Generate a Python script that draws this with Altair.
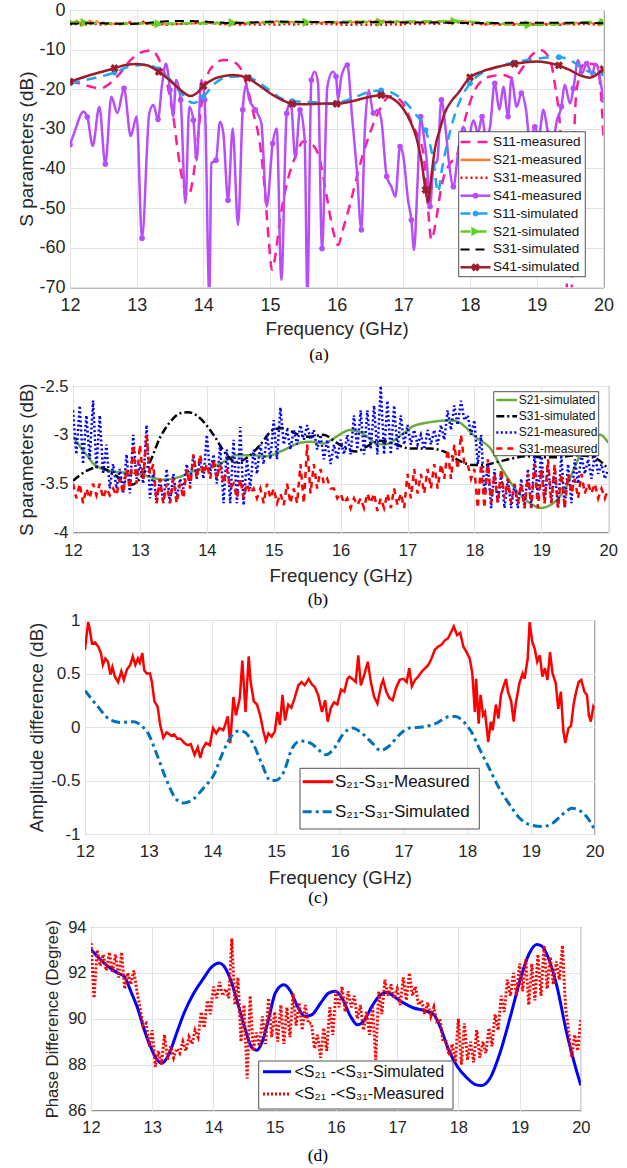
import altair as alt
import pandas as pd

# ------------------------------------------------------------------ data --
FREQ_TICKS = [12, 13, 14, 15, 16, 17, 18, 19, 20]

# frequency grid of the rippled measured traces: every 0.1 GHz step holds
# one upper and one lower excursion of the ripple
RIPPLE_F = [round(12 + 0.1 * k, 1) for k in range(81)]

# (a) reflection and isolation, (GHz, dB)
S11_MEAS = [
    (12.0, -18), (12.15, -18.6), (12.3, -19.3), (12.45, -19.8), (12.6, -18.5), (12.75, -16),
    (12.9, -12.8), (13.05, -10.8), (13.22, -10.2), (13.35, -13), (13.45, -18), (13.55, -27),
    (13.62, -36), (13.7, -44), (13.77, -47), (13.83, -44), (13.9, -35), (13.97, -24),
    (14.05, -17), (14.15, -14), (14.3, -12.6), (14.42, -12.9), (14.55, -14.5), (14.65, -19),
    (14.75, -26), (14.85, -34), (14.92, -45), (14.98, -58), (15.03, -65.6), (15.08, -62),
    (15.15, -53), (15.25, -44), (15.38, -37), (15.5, -33.2), (15.62, -33.8), (15.75, -38),
    (15.85, -47), (15.95, -56), (16.02, -59.3), (16.1, -55), (16.2, -49), (16.35, -39),
    (16.5, -31), (16.65, -25), (16.8, -21.8), (16.95, -22.7), (17.15, -29.5), (17.3, -36),
    (17.36, -48), (17.42, -58), (17.5, -52), (17.57, -44.6), (17.7, -38.7), (17.8, -37),
    (17.85, -33), (17.95, -26), (18.1, -19.4), (18.3, -16.8), (18.5, -16.4), (18.65, -17.2),
    (18.8, -14.3), (18.95, -11), (19.05, -10.1), (19.2, -12.6), (19.27, -18.5), (19.35, -29.5),
    (19.4, -43.7), (19.43, -56), (19.46, -72), (19.52, -72), (19.55, -40), (19.6, -20),
    (19.72, -13.5), (19.9, -13.9), (19.97, -22.7), (20.0, -32),
]

S41_MEAS = [
    (12.0, -34), (12.07, -30.7), (12.2, -25.7), (12.26, -27), (12.34, -34.3), (12.44, -24.4),
    (12.53, -38.9), (12.62, -21.9), (12.71, -26), (12.81, -19.8), (12.91, -31.8), (13.0, -26.9),
    (13.08, -57.6), (13.19, -26), (13.25, -24), (13.32, -27.6), (13.38, -18.9), (13.44, -13.5),
    (13.5, -20.2), (13.55, -26.9), (13.59, -17.7), (13.66, -22.7), (13.73, -48.8), (13.79, -24.4),
    (13.85, -27.8), (13.9, -38), (13.97, -17.7), (14.02, -22.7), (14.09, -72), (14.12, -38.7),
    (14.19, -37.9), (14.25, -28.2), (14.3, -31.1), (14.37, -48), (14.44, -29.9), (14.52, -54.3),
    (14.59, -25.2), (14.64, -18.9), (14.69, -22.7), (14.78, -25.2), (14.87, -28.6), (14.95, -49.6),
    (15.04, -33.7), (15.1, -29.9), (15.17, -68.1), (15.25, -26.1), (15.31, -23.1), (15.38, -37.4),
    (15.45, -25.2), (15.52, -32.8), (15.56, -72), (15.62, -17.7), (15.67, -15.6), (15.72, -18.5),
    (15.78, -60.2), (15.86, -19.4), (15.94, -15.6), (15.99, -16.8), (16.02, -22.7), (16.07, -16.8),
    (16.16, -13.9), (16.23, -26.9), (16.3, -40), (16.37, -55.5), (16.42, -31.1), (16.48, -20.2),
    (16.55, -26), (16.62, -25.2), (16.67, -27.8), (16.75, -42), (16.82, -44.6), (16.88, -47.1),
    (16.95, -34.5), (17.0, -37), (17.07, -48), (17.12, -53), (17.16, -60.6), (17.21, -44.6),
    (17.26, -26.9), (17.3, -31.1), (17.35, -37.9), (17.4, -49.6), (17.45, -39.5), (17.51, -37.9),
    (17.57, -22.7), (17.63, -29.5), (17.68, -37.9), (17.75, -44.6), (17.82, -36.2), (17.9, -29.5),
    (17.97, -32.8), (18.05, -27.8), (18.12, -31.1), (18.18, -26.9), (18.24, -32.8), (18.3, -29.5),
    (18.37, -18.5), (18.44, -25.2), (18.5, -19.4), (18.57, -26.9), (18.62, -17.2), (18.7, -24.4),
    (18.77, -21), (18.84, -25.2), (18.9, -33.7), (18.97, -29.5), (19.03, -32), (19.1, -25.2),
    (19.17, -31.1), (19.23, -34.5), (19.3, -28), (19.37, -24.4), (19.42, -18.9), (19.5, -23.6),
    (19.55, -19.8), (19.62, -12.6), (19.68, -16), (19.75, -13.5), (19.83, -16.4), (19.88, -13.5),
    (20.0, -22.7),
]

S11_SIM = [
    (12.0, -18.5), (12.333, -17.3), (12.667, -15.8), (12.9, -14.2), (13.15, -13.8), (13.333, -15.0),
    (13.5, -17.5), (13.667, -21.0), (13.85, -23.5), (14.0, -21.9), (14.167, -18.6), (14.333, -17.1),
    (14.5, -16.8), (14.667, -17.0), (14.833, -18.3), (15.0, -20.3), (15.167, -22.3), (15.333, -23.0),
    (15.5, -23.2), (15.667, -23.3), (15.833, -23.6), (16.0, -23.5), (16.167, -22.7), (16.333, -21.6),
    (16.5, -20.6), (16.667, -20.3), (16.833, -20.9), (17.0, -22.8), (17.167, -26.0), (17.333, -30.3),
    (17.45, -38), (17.52, -46), (17.58, -40), (17.667, -33), (17.8, -25), (18.0, -18.5),
    (18.167, -16.0), (18.333, -14.8), (18.5, -13.9), (18.667, -13.2), (18.833, -12.7), (19.0, -12.3),
    (19.167, -12.0), (19.333, -11.9), (19.5, -12.6), (19.667, -14.5), (19.833, -15.8), (20.0, -16.0),
]

S41_SIM = [
    (12.0, -18.1), (12.333, -16.3), (12.667, -14.7), (12.833, -13.9), (13.0, -13.6), (13.167, -14.0),
    (13.333, -15.6), (13.5, -17.8), (13.667, -20.3), (13.8, -21.7), (13.9, -21.0), (14.0, -19.2),
    (14.167, -17.3), (14.333, -16.6), (14.45, -16.4), (14.667, -17.2), (14.833, -19.0), (15.0, -21.0),
    (15.167, -22.6), (15.333, -23.7), (15.5, -23.8), (15.667, -23.7), (15.833, -23.6), (16.0, -23.7),
    (16.167, -23.3), (16.333, -22.6), (16.5, -21.9), (16.667, -21.5), (16.833, -22.3), (17.0, -25.0),
    (17.1, -28.0), (17.2, -32.5), (17.27, -38), (17.333, -45.4), (17.37, -48.4), (17.42, -42),
    (17.47, -35.3), (17.55, -30), (17.62, -26), (17.72, -23), (17.82, -21), (18.0, -17.0),
    (18.167, -15.6), (18.333, -14.7), (18.5, -14.0), (18.667, -13.6), (18.833, -13.2), (19.0, -13.0),
    (19.167, -13.3), (19.333, -14.0), (19.5, -15.2), (19.667, -16.6), (19.8, -17.1), (19.9, -16.3),
    (20.0, -14.9),
]

# frequencies carrying the markers of the simulated traces
SIM_MARK_F = [12.0, 12.667, 13.333, 14.0, 14.667, 15.333, 16.0, 16.667, 17.333, 18.0, 18.667, 19.333, 20.0]
S21_SIM_MARK_F = [12.22, 13.33, 14.44, 15.55, 16.66, 17.77, 18.88, 20.0]

# (a) and (b) transmission, (GHz, dB)
S21_SIM = [
    (12.0, -3.02), (12.16, -3.17), (12.22, -3.22), (12.31, -3.3), (12.45, -3.35), (12.65, -3.38),
    (12.9, -3.39), (13.15, -3.43), (13.33, -3.46), (13.6, -3.43), (13.8, -3.37), (14.04, -3.34),
    (14.24, -3.28), (14.44, -3.21), (14.69, -3.21), (14.89, -3.22), (15.14, -3.16), (15.39, -3.08),
    (15.55, -3.07), (15.74, -3.09), (15.89, -3.04), (16.14, -2.95), (16.34, -2.99), (16.54, -3.09),
    (16.66, -3.1), (16.89, -3.01), (17.09, -2.91), (17.34, -2.87), (17.64, -2.85), (17.77, -2.87),
    (18.03, -3.03), (18.23, -3.13), (18.43, -3.37), (18.63, -3.57), (18.83, -3.7), (18.88, -3.72),
    (18.98, -3.75), (19.18, -3.7), (19.38, -3.52), (19.53, -3.28), (19.68, -3.07), (19.88, -3.0),
    (20.0, -3.08),
]

S31_SIM = [
    (12.0, -3.47), (12.2, -3.37), (12.38, -3.33), (12.56, -3.38), (12.73, -3.46), (12.88, -3.51),
    (13.0, -3.45), (13.15, -3.28), (13.3, -3.03), (13.45, -2.87), (13.6, -2.78), (13.72, -2.77),
    (13.9, -2.83), (14.1, -3.0), (14.29, -3.2), (14.44, -3.28), (14.59, -3.24), (14.79, -3.11),
    (14.99, -2.95), (15.14, -2.93), (15.34, -2.99), (15.54, -3.02), (15.74, -3.0), (15.94, -3.08),
    (16.14, -3.16), (16.24, -3.17), (16.39, -3.12), (16.59, -3.06), (16.79, -3.09), (17.04, -3.14),
    (17.34, -3.14), (17.54, -3.17), (17.79, -3.27), (17.98, -3.31), (18.13, -3.31), (18.33, -3.28),
    (18.58, -3.24), (18.78, -3.22), (18.98, -3.23), (19.23, -3.23), (19.53, -3.21), (19.78, -3.23),
    (20.0, -3.35),
]

S21_MEAS_HI = [
    -2.75, -2.7, -2.8, -2.65, -2.8, -3.1, -3.3, -3.35, -3.2, -3.0,
    -3.3, -2.9, -3.4, -3.45, -3.35, -3.4, -3.45, -3.3, -3.2, -3.25,
    -3.0, -3.2, -3.1, -3.15, -3.05, -2.92, -3.25, -3.15, -3.1, -3.0,
    -2.85, -2.72, -2.95, -2.95, -2.9, -2.9, -2.95, -3.0, -3.05, -3.1,
    -3.05, -3.0, -2.8, -2.75, -2.75, -2.7, -2.5, -2.65, -2.7, -2.8,
    -2.9, -2.95, -3.0, -2.95, -2.95, -2.9, -2.75, -2.7, -2.65, -2.8,
    -2.85, -3.0, -3.3, -3.35, -3.4, -3.45, -3.5, -3.45, -3.35, -3.2,
    -3.15, -3.3, -3.35, -3.2, -3.3, -3.25, -3.2, -3.25, -3.2, -3.3,
    -3.35,
]
S21_MEAS_LO = [
    -3.2, -3.3, -3.25, -3.35, -3.4, -3.55, -3.55, -3.6, -3.6, -3.45,
    -3.5, -3.65, -3.7, -3.7, -3.7, -3.65, -3.55, -3.5, -3.45, -3.45,
    -3.4, -3.5, -3.7, -3.7, -3.7, -3.72, -3.55, -3.4, -3.3, -3.25,
    -3.25, -3.1, -3.15, -3.1, -3.05, -3.05, -3.15, -3.25, -3.3, -3.25,
    -3.2, -3.2, -3.15, -3.2, -3.15, -3.2, -3.2, -3.2, -3.15, -3.1,
    -3.1, -3.1, -3.15, -3.1, -3.1, -3.05, -2.95, -2.9, -2.85, -3.0,
    -3.3, -3.6, -3.75, -3.7, -3.75, -3.75, -3.75, -3.75, -3.75, -3.65,
    -3.7, -3.7, -3.75, -3.75, -3.7, -3.5, -3.4, -3.45, -3.4, -3.45,
    -3.4,
]
S31_MEAS_HI = [
    -3.5, -3.5, -3.55, -3.5, -3.5, -3.55, -3.55, -3.45, -3.35, -3.1,
    -3.1, -3.0, -3.3, -3.45, -3.5, -3.45, -3.5, -3.35, -3.2, -3.2,
    -3.3, -3.25, -3.3, -3.35, -3.5, -3.45, -3.5, -3.55, -3.55, -3.5,
    -3.55, -3.6, -3.5, -3.55, -3.3, -3.1, -3.3, -3.35, -3.45, -3.55,
    -3.6, -3.65, -3.65, -3.65, -3.6, -3.6, -3.65, -3.6, -3.55, -3.6,
    -3.4, -3.35, -3.4, -3.35, -3.3, -3.3, -3.15, -3.1, -3.0, -3.3,
    -3.35, -3.3, -3.25, -3.4, -3.35, -3.45, -3.5, -3.5, -3.4, -3.3,
    -3.35, -3.25, -3.3, -3.4, -3.4, -3.45, -3.4, -3.5, -3.5, -3.55,
    -3.55,
]
S31_MEAS_LO = [
    -3.65, -3.7, -3.65, -3.62, -3.65, -3.62, -3.62, -3.6, -3.55, -3.5,
    -3.45, -3.4, -3.7, -3.7, -3.7, -3.7, -3.65, -3.55, -3.45, -3.4,
    -3.45, -3.45, -3.5, -3.55, -3.65, -3.65, -3.6, -3.65, -3.7, -3.65,
    -3.7, -3.72, -3.7, -3.7, -3.7, -3.6, -3.55, -3.5, -3.55, -3.65,
    -3.7, -3.75, -3.72, -3.75, -3.7, -3.78, -3.75, -3.75, -3.72, -3.75,
    -3.65, -3.6, -3.6, -3.55, -3.55, -3.45, -3.45, -3.35, -3.3, -3.45,
    -3.75, -3.75, -3.7, -3.7, -3.65, -3.7, -3.7, -3.75, -3.75, -3.75,
    -3.7, -3.7, -3.75, -3.75, -3.6, -3.65, -3.6, -3.6, -3.65, -3.65,
    -3.6,
]

# (c) amplitude difference S21 - S31, (GHz, dB)
AMP_DIFF_MEAS = [
    (12.0, 0.72), (12.02, 0.83), (12.05, 0.98), (12.07, 0.93), (12.11, 0.78), (12.16, 0.79),
    (12.21, 0.75), (12.25, 0.69), (12.28, 0.58), (12.32, 0.64), (12.36, 0.61), (12.4, 0.49),
    (12.43, 0.56), (12.47, 0.47), (12.52, 0.42), (12.57, 0.52), (12.61, 0.44), (12.66, 0.54),
    (12.71, 0.58), (12.75, 0.66), (12.79, 0.58), (12.83, 0.64), (12.86, 0.6), (12.9, 0.69),
    (12.93, 0.53), (12.97, 0.5), (13.02, 0.5), (13.05, 0.42), (13.09, 0.24), (13.14, 0.19),
    (13.18, 0.02), (13.23, -0.1), (13.28, -0.05), (13.35, -0.08), (13.4, -0.07), (13.45, -0.11),
    (13.5, -0.11), (13.56, -0.15), (13.61, -0.17), (13.66, -0.16), (13.72, -0.26), (13.77, -0.19),
    (13.81, -0.29), (13.85, -0.2), (13.9, -0.15), (13.96, -0.17), (14.01, -0.01), (14.06, -0.06),
    (14.11, -0.01), (14.17, -0.03), (14.2, 0.02), (14.24, 0.1), (14.28, -0.15), (14.33, 0.28),
    (14.37, 0.11), (14.43, 0.27), (14.47, 0.62), (14.52, 0.14), (14.57, 0.66), (14.6, 0.42),
    (14.65, 0.24), (14.7, 0.21), (14.75, 0.11), (14.8, -0.04), (14.84, -0.13), (14.88, -0.06),
    (14.93, -0.09), (14.98, -0.04), (15.02, 0.14), (15.06, 0.02), (15.1, 0.3), (15.14, 0.06),
    (15.19, 0.21), (15.24, 0.18), (15.29, 0.27), (15.35, 0.39), (15.4, 0.42), (15.45, 0.39),
    (15.51, 0.45), (15.56, 0.4), (15.61, 0.37), (15.66, 0.3), (15.72, 0.14), (15.77, 0.25),
    (15.81, 0.05), (15.86, 0.18), (15.91, 0.23), (15.96, 0.21), (16.02, 0.35), (16.07, 0.33),
    (16.12, 0.45), (16.15, 0.47), (16.2, 0.45), (16.25, 0.42), (16.29, 0.67), (16.33, 0.39),
    (16.38, 0.48), (16.44, 0.61), (16.49, 0.41), (16.54, 0.28), (16.59, 0.22), (16.65, 0.39),
    (16.68, 0.44), (16.73, 0.33), (16.78, 0.27), (16.83, 0.25), (16.88, 0.36), (16.94, 0.44),
    (17.0, 0.45), (17.05, 0.42), (17.09, 0.55), (17.13, 0.38), (17.18, 0.44), (17.23, 0.47),
    (17.29, 0.52), (17.34, 0.55), (17.39, 0.58), (17.44, 0.64), (17.49, 0.72), (17.54, 0.75),
    (17.6, 0.77), (17.65, 0.81), (17.7, 0.83), (17.75, 0.89), (17.79, 0.94), (17.84, 0.86),
    (17.89, 0.88), (17.94, 0.75), (17.99, 0.7), (18.04, 0.64), (18.08, 0.5), (18.12, 0.14),
    (18.14, 0.45), (18.18, 0.03), (18.21, 0.3), (18.25, 0.11), (18.28, 0.14), (18.33, -0.14),
    (18.37, 0.05), (18.4, -0.03), (18.45, 0.21), (18.49, 0.08), (18.53, 0.3), (18.57, 0.38),
    (18.61, 0.45), (18.64, 0.33), (18.69, 0.24), (18.73, 0.05), (18.76, 0.21), (18.82, 0.41),
    (18.87, 0.5), (18.9, 0.45), (18.95, 0.64), (18.98, 0.98), (19.02, 0.8), (19.06, 0.73),
    (19.1, 0.61), (19.14, 0.67), (19.18, 0.47), (19.22, 0.55), (19.26, 0.44), (19.3, 0.7),
    (19.34, 0.5), (19.39, 0.41), (19.43, 0.17), (19.47, 0.33), (19.51, -0.04), (19.54, -0.15),
    (19.59, -0.01), (19.63, 0.01), (19.67, 0.21), (19.71, 0.33), (19.75, 0.42), (19.79, 0.44),
    (19.84, 0.33), (19.88, 0.3), (19.91, 0.11), (19.94, 0.05), (19.98, 0.19), (20.0, 0.17),
]
AMP_DIFF_SIM = [
    (12.0, 0.34), (12.19, 0.2), (12.4, 0.065), (12.56, 0.043), (12.77, 0.05), (12.87, 0.02),
    (13.0, -0.07), (13.13, -0.26), (13.29, -0.51), (13.44, -0.68), (13.55, -0.71), (13.71, -0.67),
    (13.86, -0.57), (14.02, -0.45), (14.17, -0.23), (14.31, -0.075), (14.41, -0.037), (14.49, -0.043),
    (14.65, -0.17), (14.78, -0.35), (14.91, -0.5), (14.99, -0.5), (15.12, -0.42), (15.25, -0.2),
    (15.38, -0.13), (15.54, -0.15), (15.7, -0.23), (15.78, -0.26), (15.91, -0.2), (16.06, -0.06),
    (16.2, -0.01), (16.35, -0.06), (16.51, -0.15), (16.64, -0.22), (16.77, -0.18), (16.93, -0.075),
    (17.09, -0.01), (17.3, 0.0), (17.51, 0.034), (17.72, 0.097), (17.82, 0.097), (17.93, 0.056),
    (18.06, -0.04), (18.19, -0.2), (18.35, -0.39), (18.5, -0.57), (18.66, -0.72), (18.82, -0.85),
    (18.97, -0.91), (19.18, -0.93), (19.34, -0.9), (19.49, -0.82), (19.65, -0.76), (19.76, -0.78),
    (19.89, -0.85), (20.0, -0.96),
]

# (d) phase difference, (GHz, degree)
PHASE_DIFF_SIM = [
    (12.0, 93.02), (12.21, 92.44), (12.43, 92.0), (12.54, 91.85), (12.65, 91.2), (12.76, 90.47),
    (12.86, 89.6), (12.97, 88.8), (13.08, 88.2), (13.16, 88.07), (13.27, 88.43), (13.38, 89.23),
    (13.52, 90.25), (13.68, 91.12), (13.84, 91.77), (13.98, 92.28), (14.09, 92.43), (14.17, 92.3),
    (14.28, 91.7), (14.41, 90.55), (14.52, 89.53), (14.63, 88.73), (14.71, 88.63), (14.79, 88.95),
    (14.9, 89.97), (15.01, 91.12), (15.15, 91.48), (15.26, 91.2), (15.37, 90.55), (15.5, 90.1),
    (15.61, 90.18), (15.75, 90.68), (15.88, 91.12), (15.99, 91.2), (16.1, 90.9), (16.24, 90.1),
    (16.35, 89.74), (16.45, 89.88), (16.59, 90.55), (16.73, 91.05), (16.84, 91.15), (16.94, 90.98),
    (17.11, 90.68), (17.27, 90.47), (17.43, 90.37), (17.6, 90.18), (17.7, 89.67), (17.84, 88.65),
    (17.98, 87.93), (18.14, 87.42), (18.28, 87.13), (18.38, 87.09), (18.52, 87.42), (18.68, 88.51),
    (18.85, 90.1), (19.01, 91.7), (19.15, 92.8), (19.28, 93.24), (19.36, 93.17), (19.47, 92.66),
    (19.61, 91.41), (19.77, 89.38), (19.88, 88.22), (20.0, 87.1),
]
PHASE_DIFF_MEAS_HI = [
    93.3, 93.0, 92.8, 92.9, 92.8, 92.9, 92.0, 92.1, 90.5, 89.8,
    89.5, 88.6, 89.3, 88.8, 88.7, 89.0, 89.2, 89.5, 90.3, 90.8,
    91.4, 91.6, 91.3, 93.5, 91.8, 90.6, 91.0, 89.4, 90.1, 90.9,
    90.3, 90.6, 90.5, 91.1, 90.7, 90.6, 89.8, 89.3, 89.6, 90.5,
    91.2, 91.4, 91.2, 91.0, 90.6, 90.3, 90.5, 91.2, 91.7, 91.5,
    91.3, 91.8, 92.0, 91.4, 90.8, 90.7, 90.5, 90.0, 89.0, 88.9,
    90.0, 89.8, 89.0, 89.5, 89.0, 89.6, 90.2, 91.0, 91.7, 92.0,
    92.4, 92.6, 92.4, 92.8, 93.2, 92.7, 92.5, 93.2, 89.5, 89.3,
    90.0,
]
PHASE_DIFF_MEAS_LO = [
    90.9, 92.3, 92.1, 92.0, 91.8, 91.3, 91.5, 91.2, 89.7, 88.8,
    87.9, 88.0, 88.2, 88.3, 88.5, 88.6, 88.9, 89.2, 89.6, 90.2,
    90.9, 91.0, 90.9, 90.6, 89.0, 87.4, 88.6, 88.8, 88.9, 89.2,
    89.0, 88.9, 89.2, 89.7, 89.5, 89.8, 88.7, 88.3, 88.6, 89.3,
    90.5, 90.3, 90.5, 90.0, 89.5, 89.3, 88.2, 90.2, 91.0, 90.9,
    90.6, 90.8, 91.0, 90.6, 90.2, 90.1, 89.8, 89.0, 88.4, 88.1,
    88.0, 88.2, 88.1, 88.3, 88.5, 88.8, 89.5, 90.3, 91.0, 91.0,
    91.2, 90.6, 90.8, 91.0, 91.3, 91.5, 91.7, 90.5, 88.3, 88.6,
    89.2,
]

# --------------------------------------------------------------- styling --
FONT = "Liberation Sans"
SERIF = "Liberation Serif"
INK = "#262626"
GRID = "#e3e3e3"

PINK = "#ff1c97"
ORANGE = "#ff7a2f"
RED = "#ff0000"
PURPLE = "#b84dfa"
SKY = "#20a4f3"
LIME = "#5fd11b"
BLACK = "#000000"
MAROON = "#9e1c2c"
OLIVE = "#6cab3f"
BLUE = "#0000ff"
STEEL = "#0072bd"

# page geometry of each panel's plot area (px) and of the band it occupies
GEOM = {
    "a": dict(left=68, top=10, w=533.4, h=277.3, band=(0, 368)),
    "b": dict(left=71, top=386, w=535.2, h=146.5, band=(368, 610)),
    "c": dict(left=83, top=620, w=509.6, h=214.0, band=(610, 912)),
    "d": dict(left=89, top=927, w=489.8, h=183.5, band=(912, 1168)),
}
GUTTER = 2  # width of the blank column that every row starts with

ONE = pd.DataFrame({"k": [0]})
X_SCALE = alt.Scale(domain=[12, 20], nice=False, zero=False)


def frame(pairs):
    return pd.DataFrame({"f": [p[0] for p in pairs], "v": [p[1] for p in pairs]})


def ripple(hi, lo):
    rows = []
    for f, h, l in zip(RIPPLE_F, hi, lo):
        rows.append((f, h))
        if f < 20:
            rows.append((round(f + 0.05, 2), l))
    return frame(rows)


def marked(df, freqs):
    wanted = set(round(x, 3) for x in freqs)
    return df[[round(f, 3) in wanted for f in df["f"]]]


def x_axis(title, label_size, label_pad, title_y):
    kw = dict(values=FREQ_TICKS, labelExpr="'' + datum.value", labelFontSize=label_size,
              labelPadding=label_pad, titleFontSize=18.7, title=title)
    if title:
        kw.update(titleY=title_y, titleBaseline="middle")
    return alt.Axis(**kw)


def y_axis(title, values, g, title_cx, title_size, label_size):
    return alt.Axis(values=values, labelExpr="'' + datum.value", labelFontSize=label_size,
                    labelPadding=5, title=title, titleFontSize=title_size,
                    titleX=title_cx - g["left"], titleY=g["h"] / 2, titleAngle=270,
                    titleAlign="center", titleBaseline="middle")


def trace(df, ax, color, width, dash=None, interp="linear"):
    kw = dict(color=color, strokeWidth=width, clip=True, interpolate=interp)
    if dash:
        kw["strokeDash"] = dash
    return alt.Chart(df).mark_line(**kw).encode(
        x=alt.X("f:Q", scale=X_SCALE, axis=ax["x"]),
        y=alt.Y("v:Q", scale=ax["yscale"], axis=ax["y"]))


def markers(df, ax, color, shape, size, angle=0):
    kw = dict(color=color, shape=shape, size=size, filled=True, opacity=1, clip=True)
    if angle:
        kw["angle"] = angle
    return alt.Chart(df).mark_point(**kw).encode(
        x=alt.X("f:Q", scale=X_SCALE, axis=ax["x"]),
        y=alt.Y("v:Q", scale=ax["yscale"], axis=ax["y"]))


def legend(g, box, line_x, text_x, rows, size, entries):
    L, T = g["left"], g["top"]
    out = [alt.Chart(ONE).mark_rect(fill="white", stroke=INK, strokeWidth=0.8).encode(
        x=alt.value(box[0] - L), x2=alt.value(box[1] - L),
        y=alt.value(box[2] - T), y2=alt.value(box[3] - T))]
    for (label, color, width, dash, mark), y in zip(entries, rows):
        kw = dict(color=color, strokeWidth=width)
        if dash:
            kw["strokeDash"] = dash
        out.append(alt.Chart(ONE).mark_rule(**kw).encode(
            x=alt.value(line_x[0] - L), x2=alt.value(line_x[1] - L), y=alt.value(y - T)))
        if mark:
            shape, msize, angle = mark
            mk = dict(color=color, shape=shape, size=msize, filled=True, opacity=1)
            if angle:
                mk["angle"] = angle
            out.append(alt.Chart(ONE).mark_point(**mk).encode(
                x=alt.value((line_x[0] + line_x[1]) / 2 - L), y=alt.value(y - T)))
        out.append(alt.Chart(ONE).mark_text(
            text=label, font=FONT, fontSize=size, color="#111111", align="left",
            baseline="middle").encode(x=alt.value(text_x - L), y=alt.value(y - T)))
    return out


def caption(g, text, cx, cy):
    return alt.Chart(ONE).mark_text(
        text=text, font=SERIF, fontSize=17.5, color="#000000", align="center",
        baseline="middle").encode(x=alt.value(cx - g["left"]), y=alt.value(cy - g["top"]))


def anchor(g):
    # invisible 1px rule fixing the panel's extent to the left, top and
    # bottom (a stroked rule's extent grows by its stroke width on each side)
    b0, b1 = g["band"]
    left = g["left"] - GUTTER
    return alt.Chart(ONE).mark_rule(color="white", strokeWidth=1).encode(
        x=alt.value(-left + 1), y=alt.value(b0 - g["top"] + 1),
        y2=alt.value(b1 - g["top"] - 1))


def gutter():
    return alt.Chart(ONE).mark_rule(color="white", strokeWidth=1).encode(
        x=alt.value(1), y=alt.value(1), y2=alt.value(1)
    ).properties(width=GUTTER, height=1, view=alt.ViewBackground(stroke="transparent"))


def panel(g, layers):
    body = alt.layer(*layers).properties(width=g["w"], height=g["h"])
    return alt.hconcat(gutter(), body, spacing=0)


# --------------------------------------------------------------- panel a --
ga = GEOM["a"]
axa = dict(x=x_axis("Frequency (GHz)", 18, 9, 41),
           y=y_axis("S parameters (dB)", [-70, -60, -50, -40, -30, -20, -10, 0], ga, 24, 19, 18),
           yscale=alt.Scale(domain=[-70, 0], nice=False, zero=False))

s11m = frame(S11_MEAS)
s41m = frame(S41_MEAS)
s11s = frame(S11_SIM)
s41s = frame(S41_SIM)
s21s = frame(S21_SIM)
s31s = frame(S31_SIM)
s21m = ripple(S21_MEAS_HI, S21_MEAS_LO)
s31m = ripple(S31_MEAS_HI, S31_MEAS_LO)

layers_a = [
    trace(s11m, axa, PINK, 2.5, [10, 7], "monotone"),
    trace(s21m, axa, ORANGE, 2),
    trace(s31m, axa, RED, 2.5, [2, 3]),
    trace(s41m, axa, PURPLE, 2.5, None, "monotone"),
    markers(s41m.iloc[::3], axa, PURPLE, "circle", 32),
    trace(s11s, axa, SKY, 2.5, [10, 7], "monotone"),
    markers(marked(s11s, SIM_MARK_F), axa, SKY, "circle", 32),
    trace(s21s, axa, LIME, 2.5, [10, 6], "monotone"),
    markers(marked(s21s, S21_SIM_MARK_F), axa, LIME, "triangle-right", 90),
    trace(s31s, axa, BLACK, 2, [9, 6], "monotone"),
    trace(s41s, axa, MAROON, 2.5, None, "monotone"),
    markers(marked(s41s, SIM_MARK_F), axa, MAROON, "cross", 70, 45),
]
layers_a += legend(
    ga, (456.7, 583.3, 131.7, 276.7), (458.5, 488.5), 491, [142 + 17.9 * i for i in range(8)], 13.5,
    [("S11-measured", PINK, 2.5, [10, 7], None),
     ("S21-measured", ORANGE, 2.5, None, None),
     ("S31-measured", RED, 2.5, [2, 3], None),
     ("S41-measured", PURPLE, 2.5, None, ("circle", 32, 0)),
     ("S11-simulated", SKY, 2.5, [10, 7], ("circle", 32, 0)),
     ("S21-simulated", LIME, 2.5, [10, 6], ("triangle-right", 90, 0)),
     ("S31-simulated", BLACK, 2, [9, 6], None),
     ("S41-simulated", MAROON, 2.5, None, ("cross", 70, 45))])
layers_a += [caption(ga, "(a)", 317, 355), anchor(ga)]

# --------------------------------------------------------------- panel b --
gb = GEOM["b"]
axb = dict(x=x_axis("Frequency (GHz)", 16.5, 10, 43),
           y=y_axis("S parameters (dB)", [-4, -3.5, -3, -2.5], gb, 24, 18.7, 16.5),
           yscale=alt.Scale(domain=[-4, -2.5], nice=False, zero=False))
layers_b = [
    trace(s21s, axb, OLIVE, 2.5, None, "monotone"),
    trace(s31s, axb, BLACK, 2.5, [8, 3, 2, 3], "monotone"),
    trace(s21m, axb, BLUE, 2.5, [2, 2.5]),
    trace(s31m, axb, RED, 2.5, [6, 5]),
]
layers_b += legend(
    gb, (491.7, 596.7, 391.7, 455.7), (494.3, 515), 516.7, [400 + 16.2 * i for i in range(4)], 12,
    [("S21-simulated", OLIVE, 2.5, None, None),
     ("S31-simulated", BLACK, 2.5, [8, 3, 2, 3], None),
     ("S21-measured", BLUE, 2.5, [2, 2.5], None),
     ("S31-measured", RED, 2.5, [6, 5], None)])
layers_b += [caption(gb, "(b)", 316, 600), anchor(gb)]

# --------------------------------------------------------------- panel c --
gc = GEOM["c"]
axc = dict(x=x_axis("Frequency (GHz)", 17, 9.7, 43),
           y=y_axis("Amplitude difference (dB)", [-1, -0.5, 0, 0.5, 1], gc, 34, 18.6, 17),
           yscale=alt.Scale(domain=[-1, 1], nice=False, zero=False))
layers_c = [
    trace(frame(AMP_DIFF_MEAS), axc, RED, 2.5),
    trace(frame(AMP_DIFF_SIM), axc, STEEL, 3, [9, 4, 3, 4], "monotone"),
]
layers_c += legend(
    gc, (298, 477.3, 768.3, 829), (300.7, 331.3), 333, [781.7, 811.7], 17,
    [("S\u2082\u2081-S\u2083\u2081-Measured", RED, 3, None, None),
     ("S\u2082\u2081-S\u2083\u2081-Simulated", STEEL, 3, [9, 4, 3, 4], None)])
layers_c += [caption(gc, "(c)", 316, 898), anchor(gc)]

# --------------------------------------------------------------- panel d --
gd = GEOM["d"]
axd = dict(x=x_axis("", 16.5, 8.9, 0),
           y=y_axis("Phase Difference (Degree)", [86, 88, 90, 92, 94], gd, 50, 16.7, 16.5),
           yscale=alt.Scale(domain=[86, 94], nice=False, zero=False))
layers_d = [
    trace(frame(PHASE_DIFF_SIM), axd, BLUE, 3, None, "monotone"),
    trace(ripple(PHASE_DIFF_MEAS_HI, PHASE_DIFF_MEAS_LO), axd, RED, 3, [2, 2]),
]
layers_d += legend(
    gd, (256.7, 451, 1061, 1109), (261, 289), 292.4, [1071.7, 1094], 16,
    [("<S\u2082\u2081 -<S\u2083\u2081-Simulated", BLUE, 3, None, None),
     ("<S\u2082\u2081 -<S\u2083\u2081-Measured", RED, 3, [2, 2], None)])
layers_d += [caption(gd, "(d)", 316, 1156), anchor(gd)]

chart = alt.vconcat(
    panel(ga, layers_a), panel(gb, layers_b), panel(gc, layers_c), panel(gd, layers_d),
    spacing=0,
).properties(
    padding=0,
).configure_view(
    stroke=INK, strokeWidth=1,
).configure_axis(
    labelFont=FONT, titleFont=FONT, labelColor=INK, titleColor=INK,
    titleFontWeight="normal", grid=True, gridColor=GRID, gridWidth=1,
    domain=False, ticks=False, tickSize=0, labelFlush=False, labelOverlap=False,
)

chart.save("out.html", embed_options={"renderer": "svg", "actions": False})
